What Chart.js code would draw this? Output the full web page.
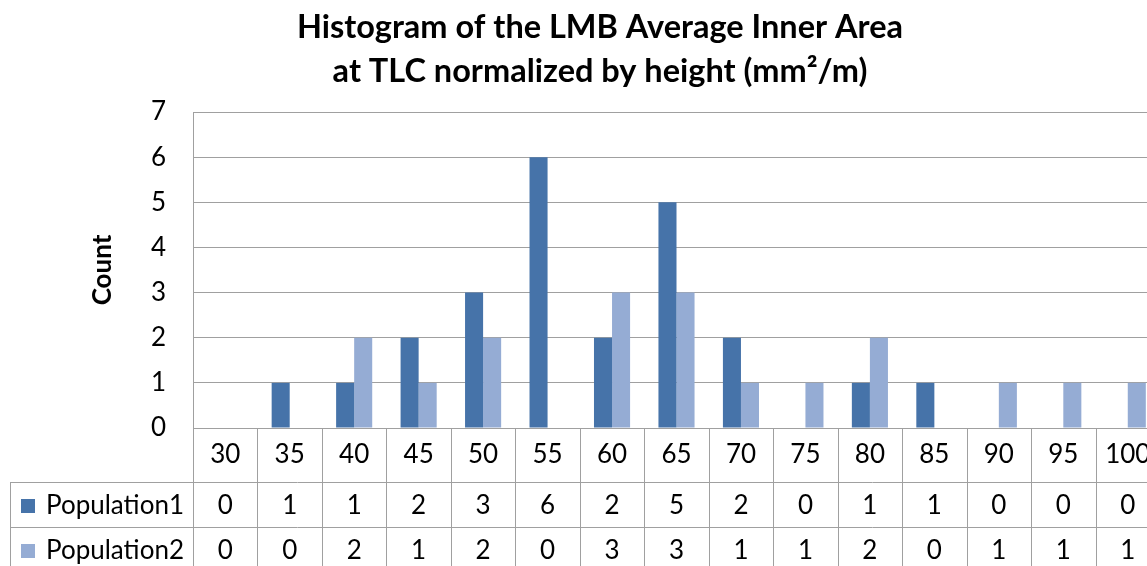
<!DOCTYPE html>
<html><head><meta charset="utf-8">
<script src="https://cdn.jsdelivr.net/npm/chart.js@4.4.1/dist/chart.umd.min.js"></script>
<style>
html,body{margin:0;padding:0;overflow:hidden;background:#fff;width:1147px;height:566px}
#wrap{position:absolute;left:0;top:0;width:1200px;height:566px}
</style></head>
<body><div id="wrap"><canvas id="c" width="1200" height="566"></canvas></div>
<script>
const categories = ['30','35','40','45','50','55','60','65','70','75','80','85','90','95','100'];
const population1 = [0,1,1,2,3,6,2,5,2,0,1,1,0,0,0];
const population2 = [0,0,2,1,2,0,3,3,1,1,2,0,1,1,1];
const yTicks = [0,1,2,3,4,5,6,7];
const seriesNames = ['Population1','Population2'];
const seriesColors = ['#4673A9','#95ACD4'];
const titleLines = ['Histogram of the LMB Average Inner Area','at TLC normalized by height (mm\u00B2/m)'];

const FONT = 'Lato, "Open Sans", sans-serif';
const LINE = '#a0a0a0';

const tablePlugin = {
  id: 'dataTable',
  afterDraw(chart) {
    const ctx = chart.ctx;
    const xs = chart.scales.x;
    const n = categories.length;
    const cw = (xs.right - xs.left) / n;
    const headerTop = chart.chartArea.bottom;
    const headerBottom = headerTop + 54;
    const rowH = 45;
    const tableLeft = 10;
    const bottom = chart.height;
    ctx.save();
    ctx.strokeStyle = LINE;
    ctx.lineWidth = 1;
    ctx.beginPath();
    for (let i = 0; i <= n; i++) {
      const bx = Math.round(xs.left + i * cw) + 0.5;
      ctx.moveTo(bx, headerTop);
      ctx.lineTo(bx, bottom);
    }
    ctx.moveTo(tableLeft + 0.5, headerBottom);
    ctx.lineTo(tableLeft + 0.5, bottom);
    for (let r = 0; r < 2; r++) {
      const y = Math.round(headerBottom + r * rowH) + 0.5;
      ctx.moveTo(tableLeft, y);
      ctx.lineTo(xs.right, y);
    }
    ctx.stroke();

    const rows = [population1, population2];
    ctx.font = '26px ' + FONT;
    ctx.textBaseline = 'middle';
    rows.forEach((vals, r) => {
      const cy = headerBottom + r * rowH + rowH / 2 + 1;
      ctx.fillStyle = seriesColors[r];
      ctx.fillRect(21, Math.round(cy - 7), 14, 14);
      ctx.fillStyle = '#000';
      ctx.textAlign = 'left';
      ctx.fillText(seriesNames[r], 46, cy);
      ctx.textAlign = 'center';
      vals.forEach((v, i) => {
        ctx.fillText(String(v), xs.getPixelForValue(i), cy);
      });
    });
    ctx.restore();
  }
};

new Chart(document.getElementById('c'), {
  type: 'bar',
  data: {
    labels: categories,
    datasets: [
      { label: seriesNames[0], data: population1, backgroundColor: seriesColors[0], categoryPercentage: 0.56, barPercentage: 1.0 },
      { label: seriesNames[1], data: population2, backgroundColor: seriesColors[1], categoryPercentage: 0.56, barPercentage: 1.0 }
    ]
  },
  options: {
    responsive: false,
    animation: false,
    layout: { padding: { left: 40, right: 40, top: 0, bottom: 0 } },
    plugins: {
      legend: { display: false },
      tooltip: { enabled: false },
      title: {
        display: true,
        text: titleLines,
        color: '#000',
        font: { family: FONT, size: 32.5, weight: 'bold', lineHeight: 1.354 },
        padding: { top: 6, bottom: 18 }
      }
    },
    scales: {
      x: {
        grid: { display: false, drawTicks: false },
        border: { display: true, color: LINE, width: 1 },
        ticks: { color: '#000', font: { family: FONT, size: 26 }, padding: 11, maxRotation: 0, autoSkip: false },
        afterFit(s) { s.height = 138; }
      },
      y: {
        min: 0, max: 7,
        afterBuildTicks(s) { s.ticks = yTicks.map(v => ({ value: v })); },
        grid: { color: LINE, lineWidth: 1, drawTicks: false },
        border: { display: true, color: LINE, width: 1 },
        ticks: { color: '#000', font: { family: FONT, size: 26 }, padding: 27 },
        title: { display: true, text: 'Count', color: '#000', font: { family: FONT, size: 26, weight: 'bold' }, padding: { top: 47, bottom: 0 } },
        afterFit(s) { s.width = 153; }
      }
    }
  },
  plugins: [tablePlugin]
});
</script>
</body></html>
